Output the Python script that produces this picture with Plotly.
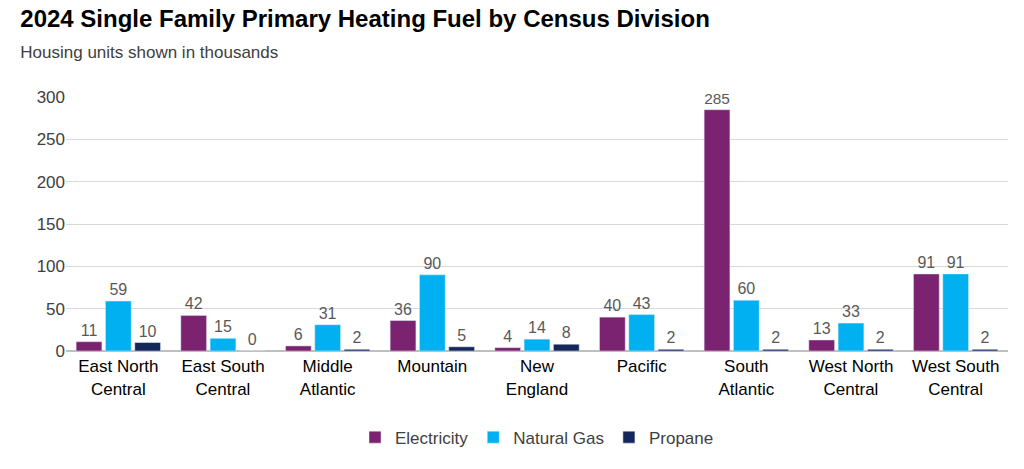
import plotly.graph_objects as go

divisions = ["East North<br>Central", "East South<br>Central", "Middle<br>Atlantic", "Mountain",
             "New<br>England", "Pacific", "South<br>Atlantic", "West North<br>Central", "West South<br>Central"]
electricity = [11, 42, 6, 36, 4, 40, 285, 13, 91]
natural_gas = [59, 15, 31, 90, 14, 43, 60, 33, 91]
propane = [10, 0, 2, 5, 8, 2, 2, 2, 2]

fig = go.Figure()
for name, vals, col in [("Electricity", electricity, "#7B2370"),
                        ("Natural Gas", natural_gas, "#00B0F0"),
                        ("Propane", propane, "#14275A")]:
    fig.add_trace(go.Bar(x=divisions, y=vals, name=name, marker_color=col,
                         text=vals, textposition="outside", cliponaxis=False,
                         textfont=dict(size=16, color="#595959")))

fig.update_layout(
    width=1024, height=469, barmode="group", bargap=0.16, bargroupgap=0.12,
    plot_bgcolor="white", paper_bgcolor="white",
    font=dict(family="Arial, Liberation Sans", size=16, color="#000000"),
    margin=dict(l=58, r=24, t=89, b=126),
    title=dict(text="<b>2024 Single Family Primary Heating Fuel by Census Division</b><br>"
                    "<span style='font-size:17px;color:#404040'>Housing units shown in thousands</span>",
               x=0.012, xanchor="left", y=0.96, yanchor="top", font=dict(size=24)),
    legend=dict(orientation="h", x=0.5, xanchor="center", y=-0.27, yanchor="top",
                font=dict(size=17, color="#404040")),
    yaxis=dict(range=[0, 300], dtick=50, gridcolor="#D9D9D9", showline=False,
               tickfont=dict(size=17, color="#404040"), zeroline=True, zerolinecolor="#BFBFBF"),
    xaxis=dict(tickfont=dict(size=17, color="#000000"), showline=True, linecolor="#BFBFBF"),
)
fig.write_html("out.html")
